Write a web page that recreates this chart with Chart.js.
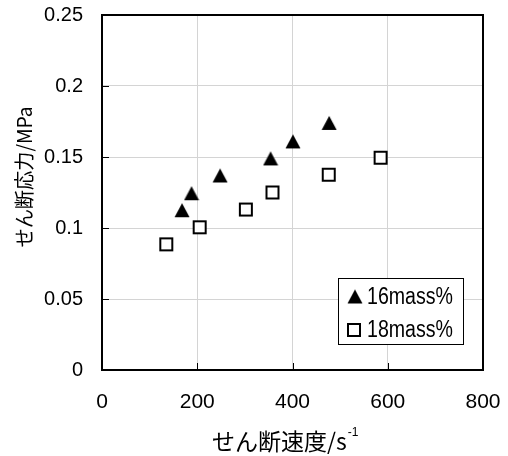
<!DOCTYPE html>
<html>
<head>
<meta charset="utf-8">
<script src="https://cdn.jsdelivr.net/npm/chart.js@4.4.1/dist/chart.umd.min.js"></script>
<style>
  html, body { margin: 0; padding: 0; background: #fff; }
  #wrap { width: 508px; height: 456px; }
</style>
</head>
<body>
<div id="wrap"><canvas id="c" width="508" height="456"></canvas></div>
<script>
// Shear rate (s^-1) and shear stress (MPa) for the two concentrations
const seriesNames = ['16mass%', '18mass%'];
const shearRate16 = [168, 188, 248, 354, 401, 477];
const stress16    = [0.1125, 0.1245, 0.137, 0.149, 0.161, 0.174];
const shearRate18 = [135, 205, 302, 358, 476, 585];
const stress18    = [0.0885, 0.1005, 0.113, 0.125, 0.1375, 0.1495];

const xTickLabels = ['0', '200', '400', '600', '800'];
const yTickLabels = ['0', '0.05', '0.1', '0.15', '0.2', '0.25'];
const xTitle = 'せん断速度/s';
const xTitleSup = '-1';
const yTitle = 'せん断応力/MPa';

// Marker images: filled triangle and hollow square, centred on their point
function triangleMarker() {
  const c = document.createElement('canvas');
  c.width = 16; c.height = 16;
  const g = c.getContext('2d');
  g.fillStyle = '#000';
  g.beginPath();
  g.moveTo(8, 1);
  g.lineTo(15.5, 15);
  g.lineTo(0.5, 15);
  g.closePath();
  g.fill();
  return c;
}
function squareMarker() {
  const c = document.createElement('canvas');
  c.width = 16; c.height = 16;
  const g = c.getContext('2d');
  g.fillStyle = '#fff';
  g.fillRect(2, 2, 12, 12);
  g.strokeStyle = '#000';
  g.lineWidth = 2;
  g.strokeRect(2, 2, 12, 12);
  return c;
}
const triImg = triangleMarker();
const sqImg = squareMarker();

const toPoints = (xs, ys) => xs.map((x, i) => ({ x: x, y: ys[i] }));

// Black frame around the plot plus short inward tick marks
const framePlugin = {
  id: 'frame',
  afterDatasetsDraw(chart) {
    const { ctx, chartArea: a, scales } = chart;
    ctx.save();
    ctx.strokeStyle = '#000';
    ctx.lineWidth = 1;
    ctx.beginPath();
    scales.y.ticks.forEach(t => {
      const py = Math.round(scales.y.getPixelForValue(t.value)) + 0.5;
      ctx.moveTo(a.left, py); ctx.lineTo(a.left + 7, py);
    });
    scales.x.ticks.forEach(t => {
      const px = Math.round(scales.x.getPixelForValue(t.value)) + 0.5;
      ctx.moveTo(px, a.bottom); ctx.lineTo(px, a.bottom - 7);
    });
    ctx.stroke();
    ctx.lineWidth = 2;
    ctx.strokeRect(a.left, a.top, a.right - a.left, a.bottom - a.top);
    ctx.restore();
  }
};

// Boxed legend inside the plot, lower right
const legendBoxPlugin = {
  id: 'legendBox',
  afterDraw(chart) {
    const { ctx } = chart;
    const bx = 338.5, by = 278.5, bw = 125, bh = 66;
    ctx.save();
    ctx.fillStyle = '#fff';
    ctx.fillRect(bx, by, bw, bh);
    ctx.strokeStyle = '#000';
    ctx.lineWidth = 1;
    ctx.strokeRect(bx, by, bw, bh);
    const rows = [
      { img: triImg, mx: 355, y: 296.5, label: seriesNames[0] },
      { img: sqImg, mx: 354, y: 330, label: seriesNames[1] }
    ];
    ctx.font = '23px "Liberation Sans", Arial, sans-serif';
    ctx.fillStyle = '#000';
    ctx.textBaseline = 'middle';
    ctx.textAlign = 'left';
    rows.forEach(r => {
      ctx.drawImage(r.img, r.mx - 8, r.y - 8);
      ctx.fillText(r.label, 367, r.y + 1, 86);
    });
    ctx.restore();
  }
};

// Axis titles
const titlePlugin = {
  id: 'axisTitles',
  afterDraw(chart) {
    const { ctx } = chart;
    ctx.save();
    ctx.fillStyle = '#000';
    ctx.textBaseline = 'middle';
    const xFont = '23px "Noto Sans CJK JP", sans-serif';
    const supFont = '12px "Liberation Sans", Arial, sans-serif';
    ctx.font = xFont;
    const w1 = Math.min(ctx.measureText(xTitle).width, 144);
    const x0 = 212;
    ctx.textAlign = 'left';
    ctx.fillText(xTitle, x0, 441, 144);
    ctx.font = supFont;
    ctx.fillText(xTitleSup, x0 + w1 + 1, 433);

    ctx.translate(24, 177);
    ctx.rotate(-Math.PI / 2);
    ctx.font = '20px "Noto Sans CJK JP", sans-serif';
    ctx.textAlign = 'center';
    ctx.fillText(yTitle, 0, 0, 141);
    ctx.restore();
  }
};

new Chart(document.getElementById('c'), {
  type: 'scatter',
  data: {
    datasets: [
      {
        label: seriesNames[0],
        data: toPoints(shearRate16, stress16),
        pointStyle: triImg,
        pointRadius: 8,
        backgroundColor: '#000',
        borderColor: '#000'
      },
      {
        label: seriesNames[1],
        data: toPoints(shearRate18, stress18),
        pointStyle: sqImg,
        pointRadius: 8,
        backgroundColor: '#fff',
        borderColor: '#000'
      }
    ]
  },
  options: {
    responsive: false,
    animation: false,
    devicePixelRatio: 1,
    layout: { padding: { top: 15, right: 25, left: 0, bottom: 0 } },
    plugins: {
      legend: { display: false },
      tooltip: { enabled: false }
    },
    scales: {
      x: {
        type: 'linear',
        min: 0, max: 800,
        afterFit: s => { s.height = 86; s.paddingLeft = 0; s.paddingRight = 0; },
        border: { display: false },
        grid: { color: '#d4d4d4', lineWidth: 1, drawTicks: false },
        ticks: {
          stepSize: 200,
          padding: 20,
          color: '#000',
          font: { family: '"Liberation Sans", Arial, sans-serif', size: 21 },
          callback: (v, i) => xTickLabels[i]
        }
      },
      y: {
        type: 'linear',
        min: 0, max: 0.25,
        afterFit: s => { s.width = 102; s.paddingTop = 0; s.paddingBottom = 0; },
        border: { display: false },
        grid: { color: '#d4d4d4', lineWidth: 1, drawTicks: false },
        ticks: {
          stepSize: 0.05,
          padding: 19,
          color: '#000',
          font: { family: '"Liberation Sans", Arial, sans-serif', size: 20 },
          callback: (v, i) => yTickLabels[i]
        }
      }
    }
  },
  plugins: [framePlugin, legendBoxPlugin, titlePlugin]
});
</script>
</body>
</html>
